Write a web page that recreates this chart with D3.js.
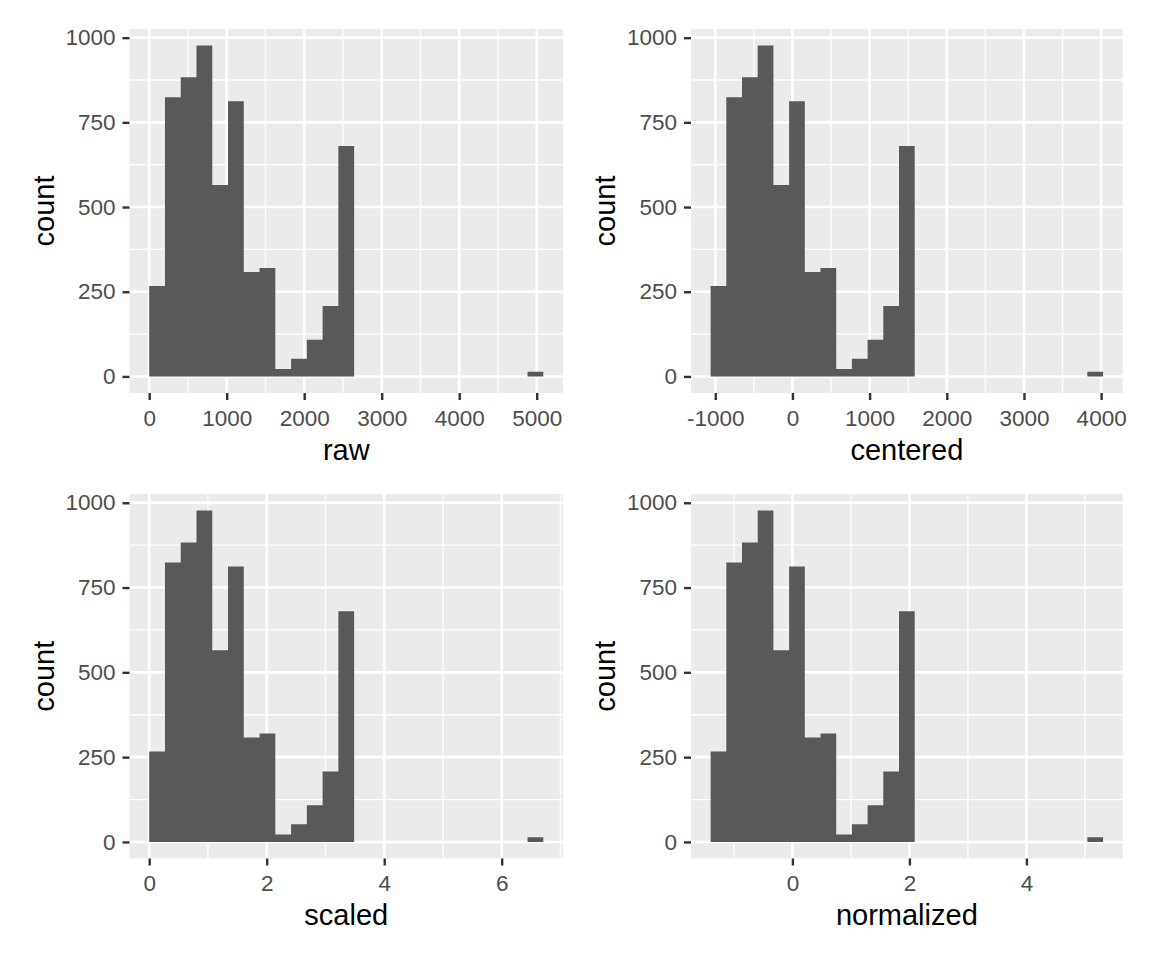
<!DOCTYPE html>
<html>
<head>
<meta charset="utf-8">
<script src="https://cdn.jsdelivr.net/npm/d3@7"></script>
<style>
  body { margin: 0; background: #fff; }
  text { font-family: "Liberation Sans", Arial, sans-serif; }
</style>
</head>
<body>
<div id="chart"></div>
<script>
// bin counts (25 bins, same for every panel, only the x values change)
const counts = [267, 824, 883, 977, 565, 812, 308, 320, 22, 52, 108, 208, 680,
                0, 0, 0, 0, 0, 0, 0, 0, 0, 0, 0, 14];
const panelNames = ["raw", "centered", "scaled", "normalized"];
// left edge of first bin, right edge of last bin
const binLo = [0, -1060, 0, -1.398];
const binHi = [5085, 4025, 6.708, 5.31];
const xTicks = [
  [0, 1000, 2000, 3000, 4000, 5000],
  [-1000, 0, 1000, 2000, 3000, 4000],
  [0, 2, 4, 6],
  [0, 2, 4]
];
const yTicks = [0, 250, 500, 750, 1000];

// panel boxes in the 2x2 grid
const colLeft = [129.5, 691], colRight = [563, 1122.7];
const rowTop = [28.9, 494], rowBottom = [393, 858.5];

const W = 1152, H = 960;
const svg = d3.select("#chart").append("svg")
  .attr("width", W).attr("height", H)
  .style("display", "block");
svg.append("rect").attr("width", W).attr("height", H).attr("fill", "#fff");

function minorBreaks(major, dom) {
  const step = major[1] - major[0];
  const out = [];
  for (let b = major[0] - step; b <= major[major.length - 1] + step; b += step) {
    const m = b + step / 2;
    if (m > dom[0] && m < dom[1]) out.push(m);
  }
  return out;
}

panelNames.forEach((name, i) => {
  const col = i % 2, row = Math.floor(i / 2);
  const left = colLeft[col], right = colRight[col];
  const top = rowTop[row], bottom = rowBottom[row];

  const lo = binLo[i], hi = binHi[i];
  const bw = (hi - lo) / counts.length;
  const bins = counts.map((c, k) => ({ x0: lo + k * bw, x1: lo + (k + 1) * bw, n: c }));

  const pad = (hi - lo) * 0.05;
  const x = d3.scaleLinear().domain([lo - pad, hi + pad]).range([left, right]);
  const ymax = d3.max(counts);
  const y = d3.scaleLinear().domain([-ymax * 0.05, ymax * 1.05]).range([bottom, top]);

  const g = svg.append("g");

  // panel background
  g.append("rect")
    .attr("x", left).attr("y", top)
    .attr("width", right - left).attr("height", bottom - top)
    .attr("fill", "#EBEBEB");

  // grid
  const xMinor = minorBreaks(xTicks[i], x.domain());
  const yMinor = minorBreaks(yTicks, y.domain());
  g.selectAll(".ymin").data(yMinor).join("line")
    .attr("x1", left).attr("x2", right)
    .attr("y1", d => y(d)).attr("y2", d => y(d))
    .attr("stroke", "#fff").attr("stroke-width", 1.3);
  g.selectAll(".xmin").data(xMinor).join("line")
    .attr("y1", top).attr("y2", bottom)
    .attr("x1", d => x(d)).attr("x2", d => x(d))
    .attr("stroke", "#fff").attr("stroke-width", 1.3);
  g.selectAll(".ymaj").data(yTicks).join("line")
    .attr("x1", left).attr("x2", right)
    .attr("y1", d => y(d)).attr("y2", d => y(d))
    .attr("stroke", "#fff").attr("stroke-width", 2.6);
  g.selectAll(".xmaj").data(xTicks[i]).join("line")
    .attr("y1", top).attr("y2", bottom)
    .attr("x1", d => x(d)).attr("x2", d => x(d))
    .attr("stroke", "#fff").attr("stroke-width", 2.6);

  // bars as one stepped area so neighbouring bins don't show seams
  const steps = bins.map(d => ({ x: d.x0, n: d.n }));
  steps.push({ x: bins[bins.length - 1].x1, n: bins[bins.length - 1].n });
  const area = d3.area()
    .x(d => x(d.x))
    .y0(y(0))
    .y1(d => y(d.n))
    .curve(d3.curveStepAfter);
  g.append("path")
    .datum(steps)
    .attr("d", area)
    .attr("fill", "#595959");

  // axes
  const xAxis = d3.axisBottom(x).tickValues(xTicks[i]).tickSize(7).tickPadding(8)
    .tickFormat(d => String(d));
  const ax = g.append("g").attr("transform", `translate(0,${bottom})`).call(xAxis);
  const yAxis = d3.axisLeft(y).tickValues(yTicks).tickSize(7).tickPadding(7)
    .tickFormat(d => String(d));
  const ay = g.append("g").attr("transform", `translate(${left},0)`).call(yAxis);

  [ax, ay].forEach(a => {
    a.select(".domain").remove();
    a.selectAll(".tick line").attr("stroke", "#333333").attr("stroke-width", 2.4);
    a.selectAll(".tick text")
      .attr("fill", "#4D4D4D")
      .style("font-family", '"Liberation Sans", Arial, sans-serif')
      .style("font-size", "22.5px");
  });
  ax.selectAll(".tick text").attr("dy", null).attr("y", 32.5);

  // titles
  g.append("text")
    .attr("x", (left + right) / 2).attr("y", bottom + 66.8)
    .attr("text-anchor", "middle")
    .style("font-size", "29px").attr("fill", "#000")
    .text(name);
  g.append("text")
    .attr("transform", `translate(${left - 76},${(top + bottom) / 2}) rotate(-90)`)
    .attr("text-anchor", "middle")
    .style("font-size", "29px").attr("fill", "#000")
    .text("count");
});
</script>
</body>
</html>
